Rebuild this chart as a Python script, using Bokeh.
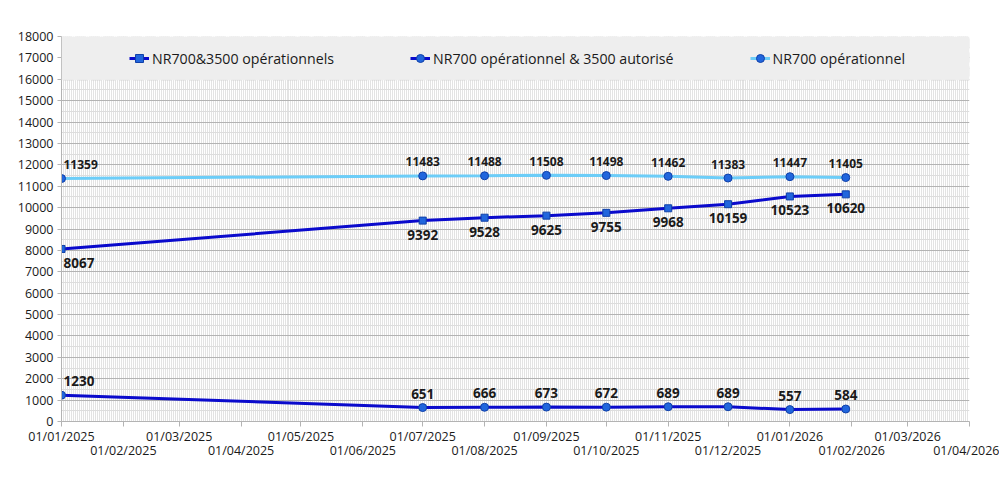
from datetime import datetime, timedelta
from bokeh.plotting import figure
from bokeh.models import (ColumnDataSource, FixedTicker, Legend, LegendItem,
                          BoxAnnotation)
from bokeh.embed import file_html
from bokeh.resources import INLINE

# ---- data ----
dates = ["2025-01-01", "2025-07-01", "2025-08-01", "2025-09-01", "2025-10-01",
         "2025-11-01", "2025-12-01", "2026-01-01", "2026-01-29"]
nr700_3500_ops = [8067, 9392, 9528, 9625, 9755, 9968, 10159, 10523, 10620]
nr700_op_3500_aut = [1230, 651, 666, 673, 672, 689, 689, 557, 584]
nr700_op = [11359, 11483, 11488, 11508, 11498, 11462, 11383, 11447, 11405]
series_names = ["NR700&3500 opérationnels",
                "NR700 opérationnel & 3500 autorisé",
                "NR700 opérationnel"]
tick_months = [(2025, m) for m in range(1, 13)] + [(2026, m) for m in range(1, 5)]

EPOCH = datetime(1970, 1, 1)


def ms(d):
    return int((d - EPOCH).total_seconds() * 1000)


xs = [ms(datetime.strptime(d, "%Y-%m-%d")) for d in dates]
align = ["left"] + ["center"] * (len(xs) - 1)
xoff = [2] + [0] * (len(xs) - 1)
src = ColumnDataSource(dict(x=xs, a=nr700_3500_ops, b=nr700_op_3500_aut,
                            c=nr700_op, align=align, xoff=xoff,
                            la=[str(v) for v in nr700_3500_ops],
                            lb=[str(v) for v in nr700_op_3500_aut],
                            lc=[str(v) for v in nr700_op]))

month_ticks = [ms(datetime(y, m, 1)) for (y, m) in tick_months]
start = datetime(2025, 1, 1)
end = datetime(2026, 4, 1)
day_ticks = []
d = start
while d <= end:
    day_ticks.append(ms(d))
    d += timedelta(days=1)

FONT = "Open Sans"

p = figure(x_axis_type="datetime", output_backend="svg", toolbar_location=None,
           frame_width=908, frame_height=385,
           min_border_left=61, min_border_right=30, min_border_top=36,
           min_border_bottom=59,
           x_range=(month_ticks[0], month_ticks[-1]), y_range=(0, 18000))
p.outline_line_color = None
p.background_fill_color = "white"

# axes
p.xaxis.ticker = FixedTicker(ticks=month_ticks, minor_ticks=day_ticks)
overrides = {}
for i, (y, m) in enumerate(tick_months):
    lab = "01/%02d/%d" % (m, y)
    overrides[month_ticks[i]] = lab if i % 2 == 0 else "\n" + lab
p.xaxis.major_label_overrides = overrides
p.yaxis.ticker = FixedTicker(ticks=list(range(0, 18001, 1000)),
                             minor_ticks=list(range(500, 18000, 1000)))
for ax in (p.xaxis, p.yaxis):
    ax.axis_line_color = "#b3b3b3"
    ax.major_tick_line_color = "#b3b3b3"
    ax.minor_tick_line_color = None
    ax.major_tick_in = 0
    ax.major_label_text_font = FONT
    ax.major_label_text_font_size = "12.5px"
    ax.major_label_text_color = "#1a1a1a"
p.xaxis.major_tick_out = 5
p.yaxis.major_tick_out = 4
p.xaxis.major_label_standoff = 1
p.xaxis.major_label_text_line_height = 0.88
p.yaxis.major_label_standoff = 4

# grids
p.xgrid.grid_line_color = "#e3e3e3"
p.xgrid.minor_grid_line_color = "#e3e3e3"
p.ygrid.grid_line_color = "#b3b3b3"
p.ygrid.minor_grid_line_color = "#dddddd"

# legend background band
band = BoxAnnotation(top=18000, bottom=15950, fill_color="#eeeeee", fill_alpha=1,
                     line_color="#c0c0c0", line_dash="10 4", line_width=1)
p.add_layout(band)

DARK = "#0a0acc"
LIGHT = "#6ccdf8"
MK = "#2166dd"
MKE = "#1040a8"

la = p.line("x", "a", source=src, line_color=DARK, line_width=3)
sa = p.scatter("x", "a", source=src, marker="square", size=7, fill_color=MK,
               line_color=MKE)
lb = p.line("x", "b", source=src, line_color=DARK, line_width=3)
sb = p.scatter("x", "b", source=src, marker="circle", size=8, fill_color=MK,
               line_color=MKE)
lc = p.line("x", "c", source=src, line_color=LIGHT, line_width=3)
sc = p.scatter("x", "c", source=src, marker="circle", size=8, fill_color=MK,
               line_color=MKE)

p.text("x", "a", text="la", source=src, text_align="align", x_offset="xoff",
       y_offset=14, text_baseline="middle", text_font_style="bold",
       text_font_size="13.5px", text_font={"value": FONT}, text_color="#1a1a1a")
p.text("x", "b", text="lb", source=src, text_align="align", x_offset="xoff",
       y_offset=-14, text_baseline="middle", text_font_style="bold",
       text_font_size="13.5px", text_font={"value": FONT}, text_color="#1a1a1a")
p.text("x", "c", text="lc", source=src, text_align="align", x_offset="xoff",
       y_offset=-14, text_baseline="middle", text_font_style="bold",
       text_font_size="12px", text_font={"value": FONT}, text_color="#1a1a1a")

legend = Legend(items=[LegendItem(label=series_names[0], renderers=[la, sa]),
                       LegendItem(label=series_names[1], renderers=[lb, sb]),
                       LegendItem(label=series_names[2], renderers=[lc, sc])],
                orientation="horizontal", location=(68, 353), padding=0, margin=0,
                spacing=76, glyph_width=20, glyph_height=20, label_height=20,
                label_standoff=3, background_fill_alpha=0, border_line_color=None,
                label_text_font=FONT, label_text_font_size="14.2px",
                label_text_color="#1a1a1a")
p.add_layout(legend)

open("out.html", "w").write(file_html(p, INLINE))
